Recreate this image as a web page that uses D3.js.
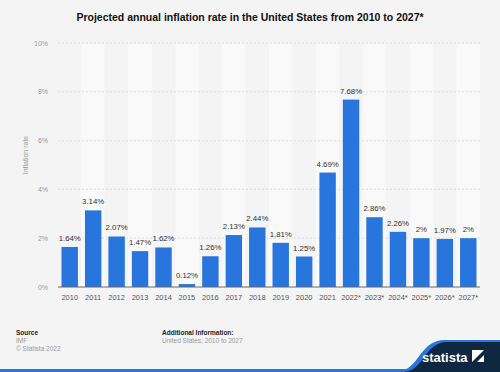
<!DOCTYPE html>
<html>
<head>
<meta charset="utf-8">
<script src="https://cdn.jsdelivr.net/npm/d3@7"></script>
<style>
  body { margin: 0; background: #f4f4f4; font-family: Arial, "Liberation Sans", sans-serif; }
  svg text { font-family: Arial, "Liberation Sans", sans-serif; }
</style>
</head>
<body>
<svg id="chart" width="500" height="372"></svg>
<script>
var years = ["2010","2011","2012","2013","2014","2015","2016","2017","2018","2019","2020","2021","2022*","2023*","2024*","2025*","2026*","2027*"];
var rates = [1.64, 3.14, 2.07, 1.47, 1.62, 0.12, 1.26, 2.13, 2.44, 1.81, 1.25, 4.69, 7.68, 2.86, 2.26, 2, 1.97, 2];
var labels = ["1.64%","3.14%","2.07%","1.47%","1.62%","0.12%","1.26%","2.13%","2.44%","1.81%","1.25%","4.69%","7.68%","2.86%","2.26%","2%","1.97%","2%"];
var yTicks = [0, 2, 4, 6, 8, 10];

var svg = d3.select("#chart");
svg.append("rect").attr("width", 500).attr("height", 372).attr("fill", "#f4f4f4");

var margin = {top: 43, left: 58, right: 20, bottom: 85};
var width = 500 - margin.left - margin.right,
    height = 372 - margin.top - margin.bottom;

var x = d3.scaleBand().domain(years).range([0, width]).paddingInner(0.3).paddingOuter(0.15);
var xs = d3.scaleBand().domain(years).range([0, width]);
var y = d3.scaleLinear().domain([0, 10]).range([height, 0]);

svg.append("text")
  .attr("x", 250).attr("y", 21)
  .attr("text-anchor", "middle")
  .style("font-size", "10.5px").style("font-weight", "bold").attr("fill", "#111")
  .text("Projected annual inflation rate in the United States from 2010 to 2027*");

var g = svg.append("g").attr("transform", "translate(" + margin.left + "," + margin.top + ")");

// alternating column stripes
g.selectAll(".stripe")
  .data(years.filter(function(d, i) { return i % 2 === 1; }))
  .enter().append("rect")
  .attr("x", function(d) { return xs(d); })
  .attr("y", 0)
  .attr("width", xs.bandwidth())
  .attr("height", height)
  .attr("fill", "#f9f9f9");

// grid
g.selectAll(".grid")
  .data(yTicks.filter(function(d) { return d > 0; }))
  .enter().append("line")
  .attr("x1", 0).attr("x2", width)
  .attr("y1", function(d) { return y(d); })
  .attr("y2", function(d) { return y(d); })
  .attr("stroke", "#d8d8d8").attr("stroke-dasharray", "2,2").attr("stroke-width", 0.8);

g.selectAll(".ytick")
  .data(yTicks)
  .enter().append("text")
  .attr("x", -10).attr("y", function(d) { return y(d) + 2.5; })
  .attr("text-anchor", "end")
  .style("font-size", "7px").attr("fill", "#999")
  .text(function(d) { return d + "%"; });

svg.append("text")
  .attr("transform", "translate(28," + (margin.top + height / 2 - 10) + ") rotate(-90)")
  .attr("text-anchor", "middle")
  .style("font-size", "7px").attr("fill", "#999")
  .text("Inflation rate");

// bars
g.selectAll(".bar")
  .data(rates)
  .enter().append("rect")
  .attr("x", function(d, i) { return x(years[i]); })
  .attr("y", function(d) { return y(d); })
  .attr("width", x.bandwidth())
  .attr("height", function(d) { return height - y(d); })
  .attr("fill", "#2876dd");

g.selectAll(".vlabel")
  .data(rates)
  .enter().append("text")
  .attr("x", function(d, i) { return x(years[i]) + x.bandwidth() / 2; })
  .attr("y", function(d) { return y(d) - 6; })
  .attr("text-anchor", "middle")
  .style("font-size", "7.8px").attr("fill", "#333")
  .text(function(d, i) { return labels[i]; });

g.append("line")
  .attr("x1", 0).attr("x2", width)
  .attr("y1", height).attr("y2", height)
  .attr("stroke", "#666").attr("stroke-width", 1);

g.selectAll(".xlabel")
  .data(years)
  .enter().append("text")
  .attr("x", function(d) { return xs(d) + xs.bandwidth() / 2; })
  .attr("y", height + 13)
  .attr("text-anchor", "middle")
  .style("font-size", "7.5px").attr("fill", "#555")
  .text(function(d) { return d; });

// footer
var foot = svg.append("g").style("font-size", "6.5px");
foot.append("text").attr("x", 16).attr("y", 335).style("font-weight", "bold").attr("fill", "#222").text("Source");
foot.append("text").attr("x", 16).attr("y", 343).attr("fill", "#999").text("IMF");
foot.append("text").attr("x", 16).attr("y", 351).attr("fill", "#999").text("© Statista 2022");
foot.append("text").attr("x", 162).attr("y", 335).style("font-weight", "bold").attr("fill", "#222").text("Additional Information:");
foot.append("text").attr("x", 162).attr("y", 343).attr("fill", "#999").text("United States; 2010 to 2027");

// logo band
svg.append("rect").attr("x", 0).attr("y", 369).attr("width", 500).attr("height", 3).attr("fill", "#2876dd");
svg.append("path")
  .attr("d", "M395,372 C420,372 418,340 445,340 L500,340 L500,372 Z")
  .attr("fill", "#2876dd");
svg.append("path")
  .attr("d", "M402,372 C425,372 423,342 448,342 L500,342 L500,372 Z")
  .attr("fill", "#0f2741");
svg.append("text")
  .attr("x", 422).attr("y", 362)
  .style("font-size", "13px").style("font-weight", "bold").attr("fill", "#fff")
  .text("statista");
svg.append("rect").attr("x", 472).attr("y", 350).attr("width", 12).attr("height", 12).attr("fill", "#fff");
svg.append("path").attr("d", "M472,362 L484,350 L484,355 L477,362 Z").attr("fill", "#0f2741");
</script>
</body>
</html>
